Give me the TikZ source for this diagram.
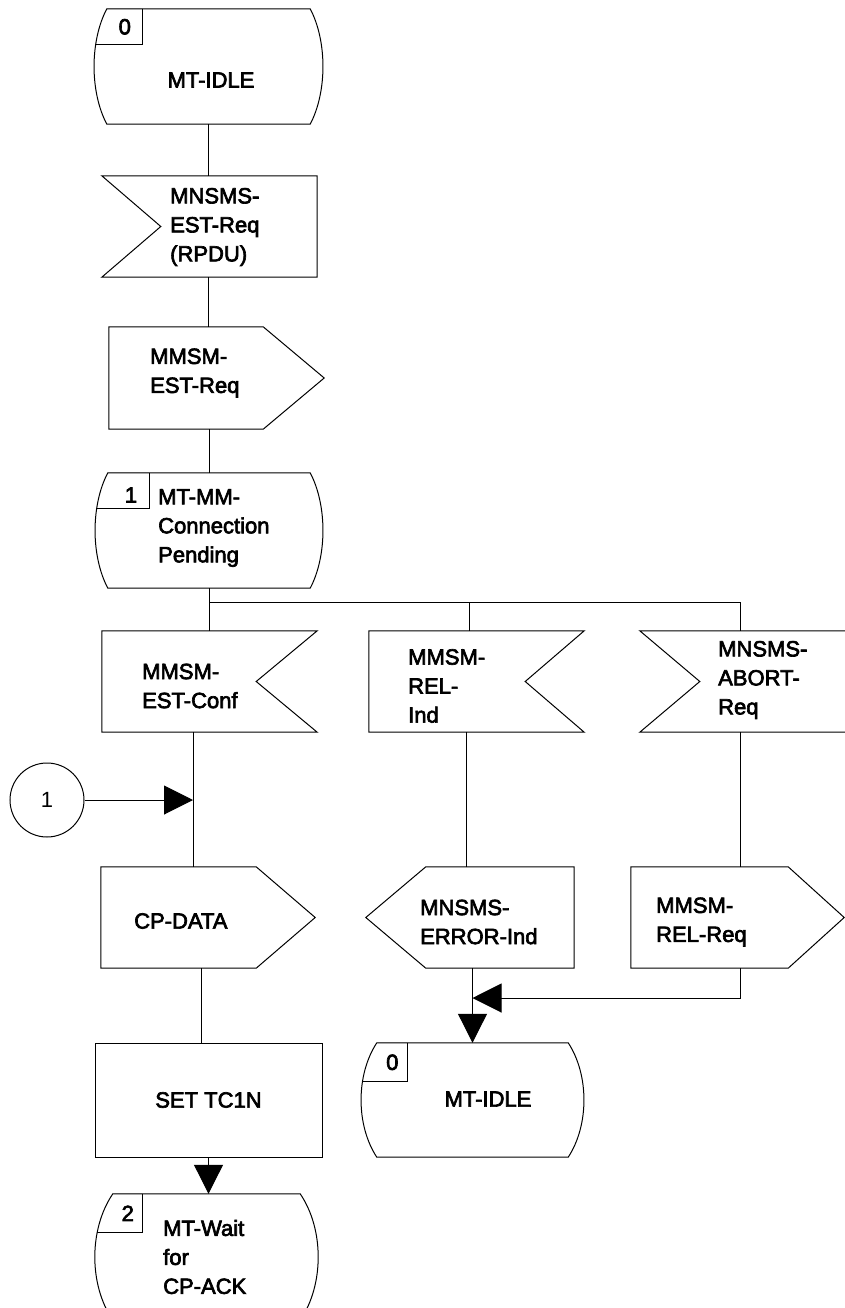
\documentclass[tikz,border=0pt]{standalone}
\usepackage{fontspec}
\setmainfont{Liberation Sans}
\newfontfamily\sdlfamily{Liberation Sans}[FakeBold=3]
\usetikzlibrary{arrows.meta,calc}
\newcommand{\sdlfont}{\sdlfamily\fontsize{22}{29}\selectfont}
\tikzset{
  sdlbox/.style={rectangle, inner sep=0pt, draw=none},
  sdltext/.style={inner sep=0pt, anchor=west, align=left, font=\sdlfont},
  flow/.style={line width=1pt},
  arrowflow/.style={line width=1pt, -{Triangle[length=29pt, width=29pt]}}
}
\newcommand{\sdlstatepath}[2]{(#1.north west) -- (#1.north east)
  .. controls ($(#1.north east)!0.28!(#1.south east)+(#2,0)$) and ($(#1.north east)!0.72!(#1.south east)+(#2,0)$) .. (#1.south east)
  -- (#1.south west)
  .. controls ($(#1.north west)!0.72!(#1.south west)-(#2,0)$) and ($(#1.north west)!0.28!(#1.south west)-(#2,0)$) .. (#1.north west) -- cycle}
\newcommand{\sdlstate}[8]{
  \node at (#1) (#2) [sdlbox, minimum width=#3, minimum height=#4] {};
  \draw[flow] \sdlstatepath{#2}{#5};
  \begin{scope}
    \clip \sdlstatepath{#2}{#5};
    \draw[flow] ([xshift=-30pt]#2.north west) rectangle ($(#2.north west)+(#6,#7)$);
  \end{scope}
  \node at ($(#2.north west)+(#6/2,#7/2)$) (#2-n) [sdltext, anchor=center] {#8};}
\newcommand{\sdlinleft}[5]{
  \node at (#1) (#2) [sdlbox, minimum width=#3, minimum height=#4] {};
  \draw[flow] (#2.north west) -- (#2.north east) -- (#2.south east) -- (#2.south west) -- ($(#2.west)+(#5,0)$) -- cycle;}
\newcommand{\sdlinright}[5]{
  \node at (#1) (#2) [sdlbox, minimum width=#3, minimum height=#4] {};
  \draw[flow] (#2.north west) -- (#2.north east) -- ($(#2.east)-(#5,0)$) -- (#2.south east) -- (#2.south west) -- cycle;}
\newcommand{\sdloutright}[5]{
  \node at (#1) (#2) [sdlbox, minimum width=#3, minimum height=#4] {};
  \draw[flow] (#2.north west) -- ($(#2.north east)-(#5,0)$) -- (#2.east) -- ($(#2.south east)-(#5,0)$) -- (#2.south west) -- cycle;}
\newcommand{\sdloutleft}[5]{
  \node at (#1) (#2) [sdlbox, minimum width=#3, minimum height=#4] {};
  \draw[flow] (#2.west) -- ($(#2.north west)+(#5,0)$) -- (#2.north east) -- (#2.south east) -- ($(#2.south west)+(#5,0)$) -- cycle;}
\begin{document}
\begin{tikzpicture}[x=1pt, y=-1pt]
\useasboundingbox (0,0) rectangle (845,1308);

% main column
\sdlstate{208.5,66.5}{s0}{203}{115}{17}{36}{36}{0}
\node at (211,80) (s0-t) [sdltext, anchor=center] {MT-IDLE};

\sdlinleft{209.5,226.5}{in0}{215}{101}{59}
\node at (170,227) (in0-t) [sdltext] {MNSMS-\\EST-Req\\(RPDU)};

\sdloutright{216.5,378}{out0}{215}{102}{61}
\node at (150,373) (out0-t) [sdltext] {MMSM-\\EST-Req};

\sdlstate{209,530.5}{s1}{202}{115}{17}{42}{36}{}
\node at (131,495) (s1-n) [sdltext, anchor=center] {1};
\node at (158,528) (s1-t) [sdltext] {MT-MM-\\Connection\\Pending};

% branches
\coordinate (br1) at (209,602);
\coordinate (br2) at (469,602);
\coordinate (br3) at (740,602);

\sdlinright{209.5,681.5}{inconf}{215}{101}{61}
\node at (142,686) (inconf-t) [sdltext] {MMSM-\\EST-Conf};
\sdlinright{476.5,681.5}{inrel}{215}{101}{59}
\node at (408,686) (inrel-t) [sdltext] {MMSM-\\REL-\\Ind};
\sdlinleft{747.5,681.5}{inabort}{215}{101}{60}
\node at (718,680) (inabort-t) [sdltext] {MNSMS-\\ABORT-\\Req};

\node at (47,800) (con1) [circle, draw, flow, minimum size=74, inner sep=0pt, font=\fontsize{22}{29}\selectfont] {1};
\coordinate (j1) at (193,800);

\sdloutright{208,917.5}{outdata}{214}{101}{59}
\node at (134,921) (outdata-t) [sdltext] {CP-DATA};
\sdloutleft{470,917.5}{outerr}{208}{101}{60}
\node at (420,922) (outerr-t) [sdltext] {MNSMS-\\ERROR-Ind};
\sdloutright{737.5,917.5}{outrel}{213}{101}{56}
\node at (656,922) (outrel-t) [sdltext] {MMSM-\\REL-Req};

\node at (208.5,1100) (settc) [draw, flow, minimum width=227, minimum height=114, font=\sdlfont] {SET TC1N};

\sdlstate{472.5,1100}{sidle}{191}{114}{21}{31}{39}{0}
\node at (488,1099) (sidle-t) [sdltext, anchor=center] {MT-IDLE};

\sdlstate{206.5,1257}{s2}{187}{126}{24}{30}{39}{2}
\node at (163,1257) (s2-t) [sdltext] {MT-Wait\\for\\CP-ACK};

\coordinate (mgy) at (0,998);
\coordinate (mg) at (sidle.north |- mgy);

% connections
\draw[flow] (s0.south) -- (s0.south |- in0.north);
\draw[flow] (s0.south |- in0.south) -- (s0.south |- out0.north);
\draw[flow] (s1.north |- out0.south) -- (s1.north);
\draw[flow] (s1.south) -- (br1) -- (br3);
\draw[flow] (br1) -- (br1 |- inconf.north);
\draw[flow] (br2) -- (br2 |- inrel.north);
\draw[flow] (br3) -- (br3 |- inabort.north);
\draw[flow] (j1 |- inconf.south) -- (j1 |- outdata.north);
\draw[arrowflow] (con1) -- (j1);
\draw[flow] ([xshift=-7pt]outdata.south) -- ([xshift=-7pt]outdata.south |- settc.north);
\draw[arrowflow] (settc.south) -- (settc.south |- s2.north);
\draw[flow] ([xshift=-3pt]br2 |- inrel.south) -- ([xshift=-3pt]br2 |- outerr.north);
\draw[arrowflow] (sidle.north |- outerr.south) -- (sidle.north);
\draw[flow] (br3 |- inabort.south) -- (br3 |- outrel.north);
\draw[arrowflow] (br3 |- outrel.south) |- (mg);

\end{tikzpicture}
\end{document}
